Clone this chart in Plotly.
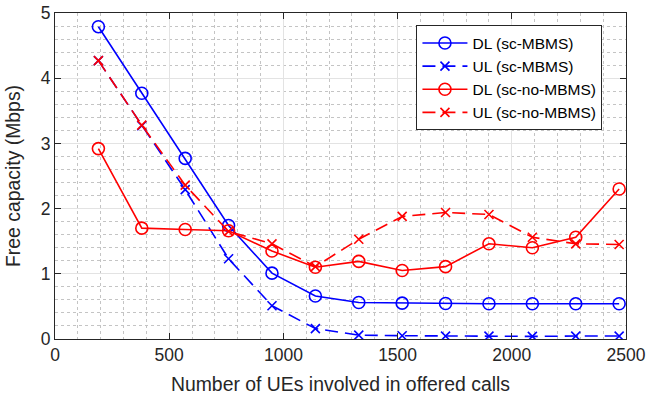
import plotly.graph_objects as go

ues = [190, 380, 570, 760, 950, 1140, 1330, 1520, 1710, 1900, 2090, 2280, 2470]
dl_mbms = [4.79, 3.77, 2.77, 1.74, 1.01, 0.66, 0.56, 0.55, 0.545, 0.54, 0.54, 0.54, 0.54]
ul_mbms = [4.27, 3.27, 2.29, 1.23, 0.51, 0.16, 0.06, 0.05, 0.045, 0.045, 0.04, 0.045, 0.045]
dl_nombms = [2.92, 1.70, 1.68, 1.66, 1.35, 1.10, 1.19, 1.05, 1.11, 1.46, 1.40, 1.56, 2.30]
ul_nombms = [4.27, 3.28, 2.36, 1.65, 1.46, 1.11, 1.53, 1.88, 1.94, 1.91, 1.56, 1.46, 1.45]

series = [
    ("DL (sc-MBMS)", dl_mbms, "#0000FF", "solid", "circle-open", 12),
    ("UL (sc-MBMS)", ul_mbms, "#0000FF", "13px,7px", "x-thin-open", 9),
    ("DL (sc-no-MBMS)", dl_nombms, "#FF0000", "solid", "circle-open", 12),
    ("UL (sc-no-MBMS)", ul_nombms, "#FF0000", "13px,7px", "x-thin-open", 9),
]

fig = go.Figure()
for name, ys, color, dash, sym, msize in series:
    fig.add_trace(go.Scatter(
        x=ues, y=ys, name=name, mode="lines+markers",
        line=dict(color=color, width=1.6, dash=dash),
        marker=dict(symbol=sym, size=msize, color=color,
                    line=dict(color=color, width=1.6)),
    ))

font = "Liberation Sans, Arial, sans-serif"
axis_common = dict(
    showline=True, linecolor="#262626", linewidth=1, mirror="ticks",
    ticks="inside", ticklen=6, tickcolor="#262626",
    showgrid=True, gridcolor="#e3e3e3", gridwidth=1,
    zeroline=False, automargin=False,
    tickfont=dict(family=font, size=17.5, color="#262626"),
)

fig.update_xaxes(
    range=[0, 2500], tick0=0, dtick=500,
    title=dict(text="Number of UEs involved in offered calls",
               font=dict(family=font, size=19.4, color="#262626"), standoff=13),
    minor=dict(dtick=100, showgrid=True, gridcolor="#c4c4c4",
               griddash="dot", gridwidth=1, ticks=""),
    **axis_common,
)
fig.update_yaxes(
    range=[0, 5], tick0=0, dtick=1,
    title=dict(text="Free capacity (Mbps)",
               font=dict(family=font, size=19.4, color="#262626"), standoff=14),
    minor=dict(dtick=0.2, showgrid=True, gridcolor="#c4c4c4",
               griddash="dot", gridwidth=1, ticks=""),
    **axis_common,
)

fig.update_layout(
    width=659, height=396,
    margin=dict(l=55, r=33, t=13, b=57, autoexpand=False),
    plot_bgcolor="white", paper_bgcolor="white",
    font=dict(family=font, color="#262626"),
    legend=dict(
        x=0.633, y=0.962, xanchor="left", yanchor="top",
        bgcolor="white", bordercolor="#262626", borderwidth=1,
        font=dict(family=font, size=15.5, color="#000000"),
        tracegroupgap=0, itemwidth=45,
    ),
    showlegend=True,
)

fig.write_html("out.html", config={"displayModeBar": False},
               post_script="document.body.style.margin='0';")
